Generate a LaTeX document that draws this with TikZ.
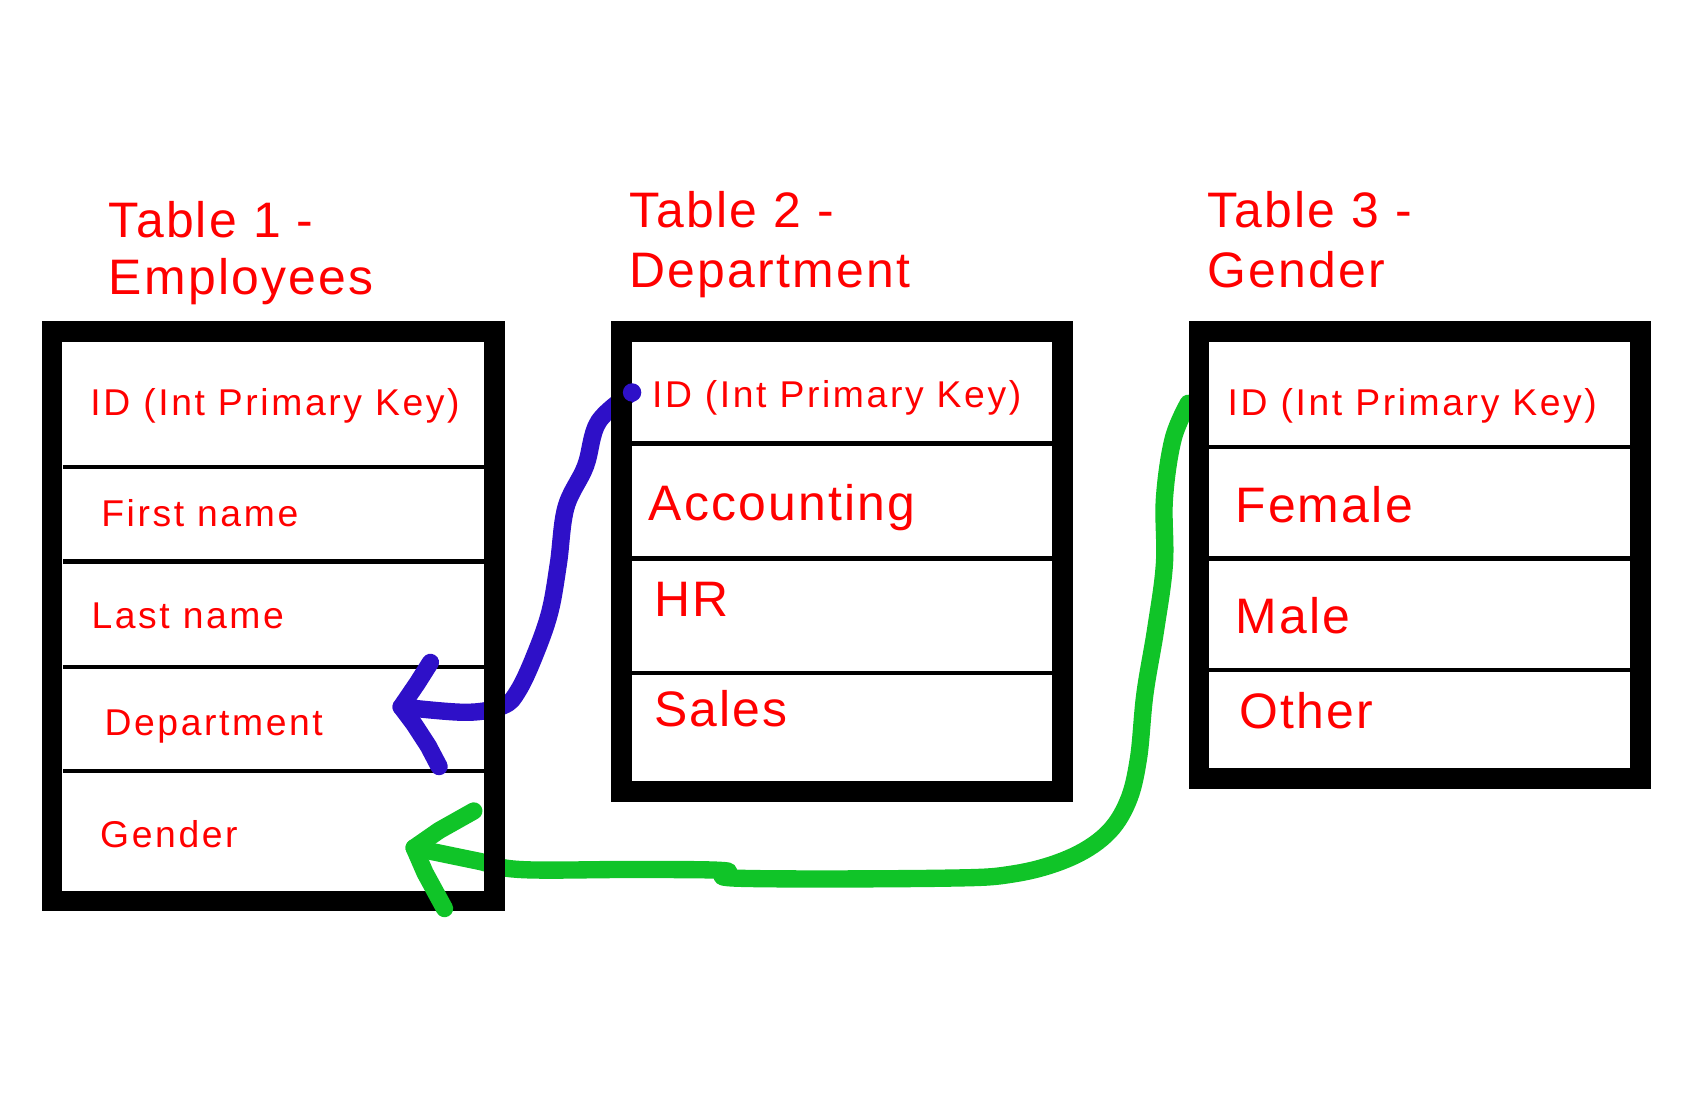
\documentclass[tikz,border=0pt]{standalone}
\usepackage{fontspec}
\setmainfont{Liberation Sans}[LetterSpace=4.5]
\usepackage{tikz}

\definecolor{keyblue}{RGB}{46,16,200}
\definecolor{keygreen}{RGB}{16,196,40}

\begin{document}
\begin{tikzpicture}[x=0.5pt,y=-0.5pt,
  tablebox/.style={draw=black,line width=9.5pt},
  rowline/.style={draw=black,line width=2pt},
  small/.style={anchor=base west,inner sep=0pt,text=red,font=\fontsize{17.2}{20}\selectfont\addfontfeature{LetterSpace=7}},
  big/.style={anchor=base west,inner sep=0pt,text=red,font=\fontsize{23}{27}\selectfont},
  link/.style={line width=8pt,line cap=round,line join=round}]
  \useasboundingbox (0,0) rectangle (1568,1023);

  \coordinate (t2 key) at (583,362);
  \coordinate (t1 dept) at (370,652);
  \coordinate (t3 key) at (1096,372);
  \coordinate (t1 gender) at (382,782);

  % links, under the table borders
  \draw[link,keyblue] plot[smooth,tension=0.6] coordinates {(t2 key) (552,389) (540,430) (522,468) (515,520) (507,565) (493,605) (478,637) (464,651) (430,657) (t1 dept)};
  \draw[link,keygreen] plot[smooth,tension=0.6] coordinates {(t3 key) (1082,405) (1074,460) (1074,520) (1066,580) (1056,640) (1050,700) (1040,740) (1020,770) (985,792) (935,806) (870,810) (680,810) (668,803) (580,802) (480,802) (440,794) (t1 gender)};

  % Table 1
  \draw[tablebox] (48,306) rectangle (456,831);
  \foreach \y in {431,518,615,711} \draw[rowline] (58,\y) -- (446,\y);
  \node[big] (t1 title) at (100,219) {Table 1 -};
  \node[big] (t1 name) at (100,272) {Employees};
  \node[small] (t1 id) at (83,383) {ID (Int Primary Key)};
  \node[small] (t1 first) at (93,486) {First name};
  \node[small] (t1 last) at (84,580) {Last name};
  \node[small] (t1 dep) at (96,678) {Department};
  \node[small] (t1 gen) at (92,782) {Gender};

  % Table 2
  \draw[tablebox] (573,306) rectangle (980,730);
  \foreach \y in {409,515,621} \draw[rowline] (582,\y) -- (971,\y);
  \node[big] (t2 title) at (580,210) {Table 2 -};
  \node[big] (t2 name) at (580,265) {Department};
  \node[small] (t2 id) at (601,376) {ID (Int Primary Key)};
  \node[big] (t2 acc) at (598,480) {Accounting};
  \node[big] (t2 hr) at (603,569) {HR};
  \node[big] (t2 sales) at (603,670) {Sales};

  % Table 3
  \draw[tablebox] (1106,306) rectangle (1513,718);
  \foreach \y in {412,515,618} \draw[rowline] (1115,\y) -- (1504,\y);
  \node[big] (t3 title) at (1113,210) {Table 3 -};
  \node[big] (t3 name) at (1113,265) {Gender};
  \node[small] (t3 id) at (1132,383) {ID (Int Primary Key)};
  \node[big] (t3 fem) at (1139,482) {Female};
  \node[big] (t3 male) at (1139,584) {Male};
  \node[big] (t3 other) at (1143,672) {Other};

  % arrow heads and start dot
  \fill[keyblue] (t2 key) circle (8.5);
  \draw[link,keyblue] (t1 dept) -- ++(15,-22) -- ++(12,-19) (t1 dept) -- ++(12,16) -- ++(13,20) -- ++(10,19);
  \draw[link,keygreen] (t1 gender) -- ++(23,-16) -- ++(32,-18) (t1 gender) -- ++(10,23) -- ++(18,33);
\end{tikzpicture}
\end{document}
